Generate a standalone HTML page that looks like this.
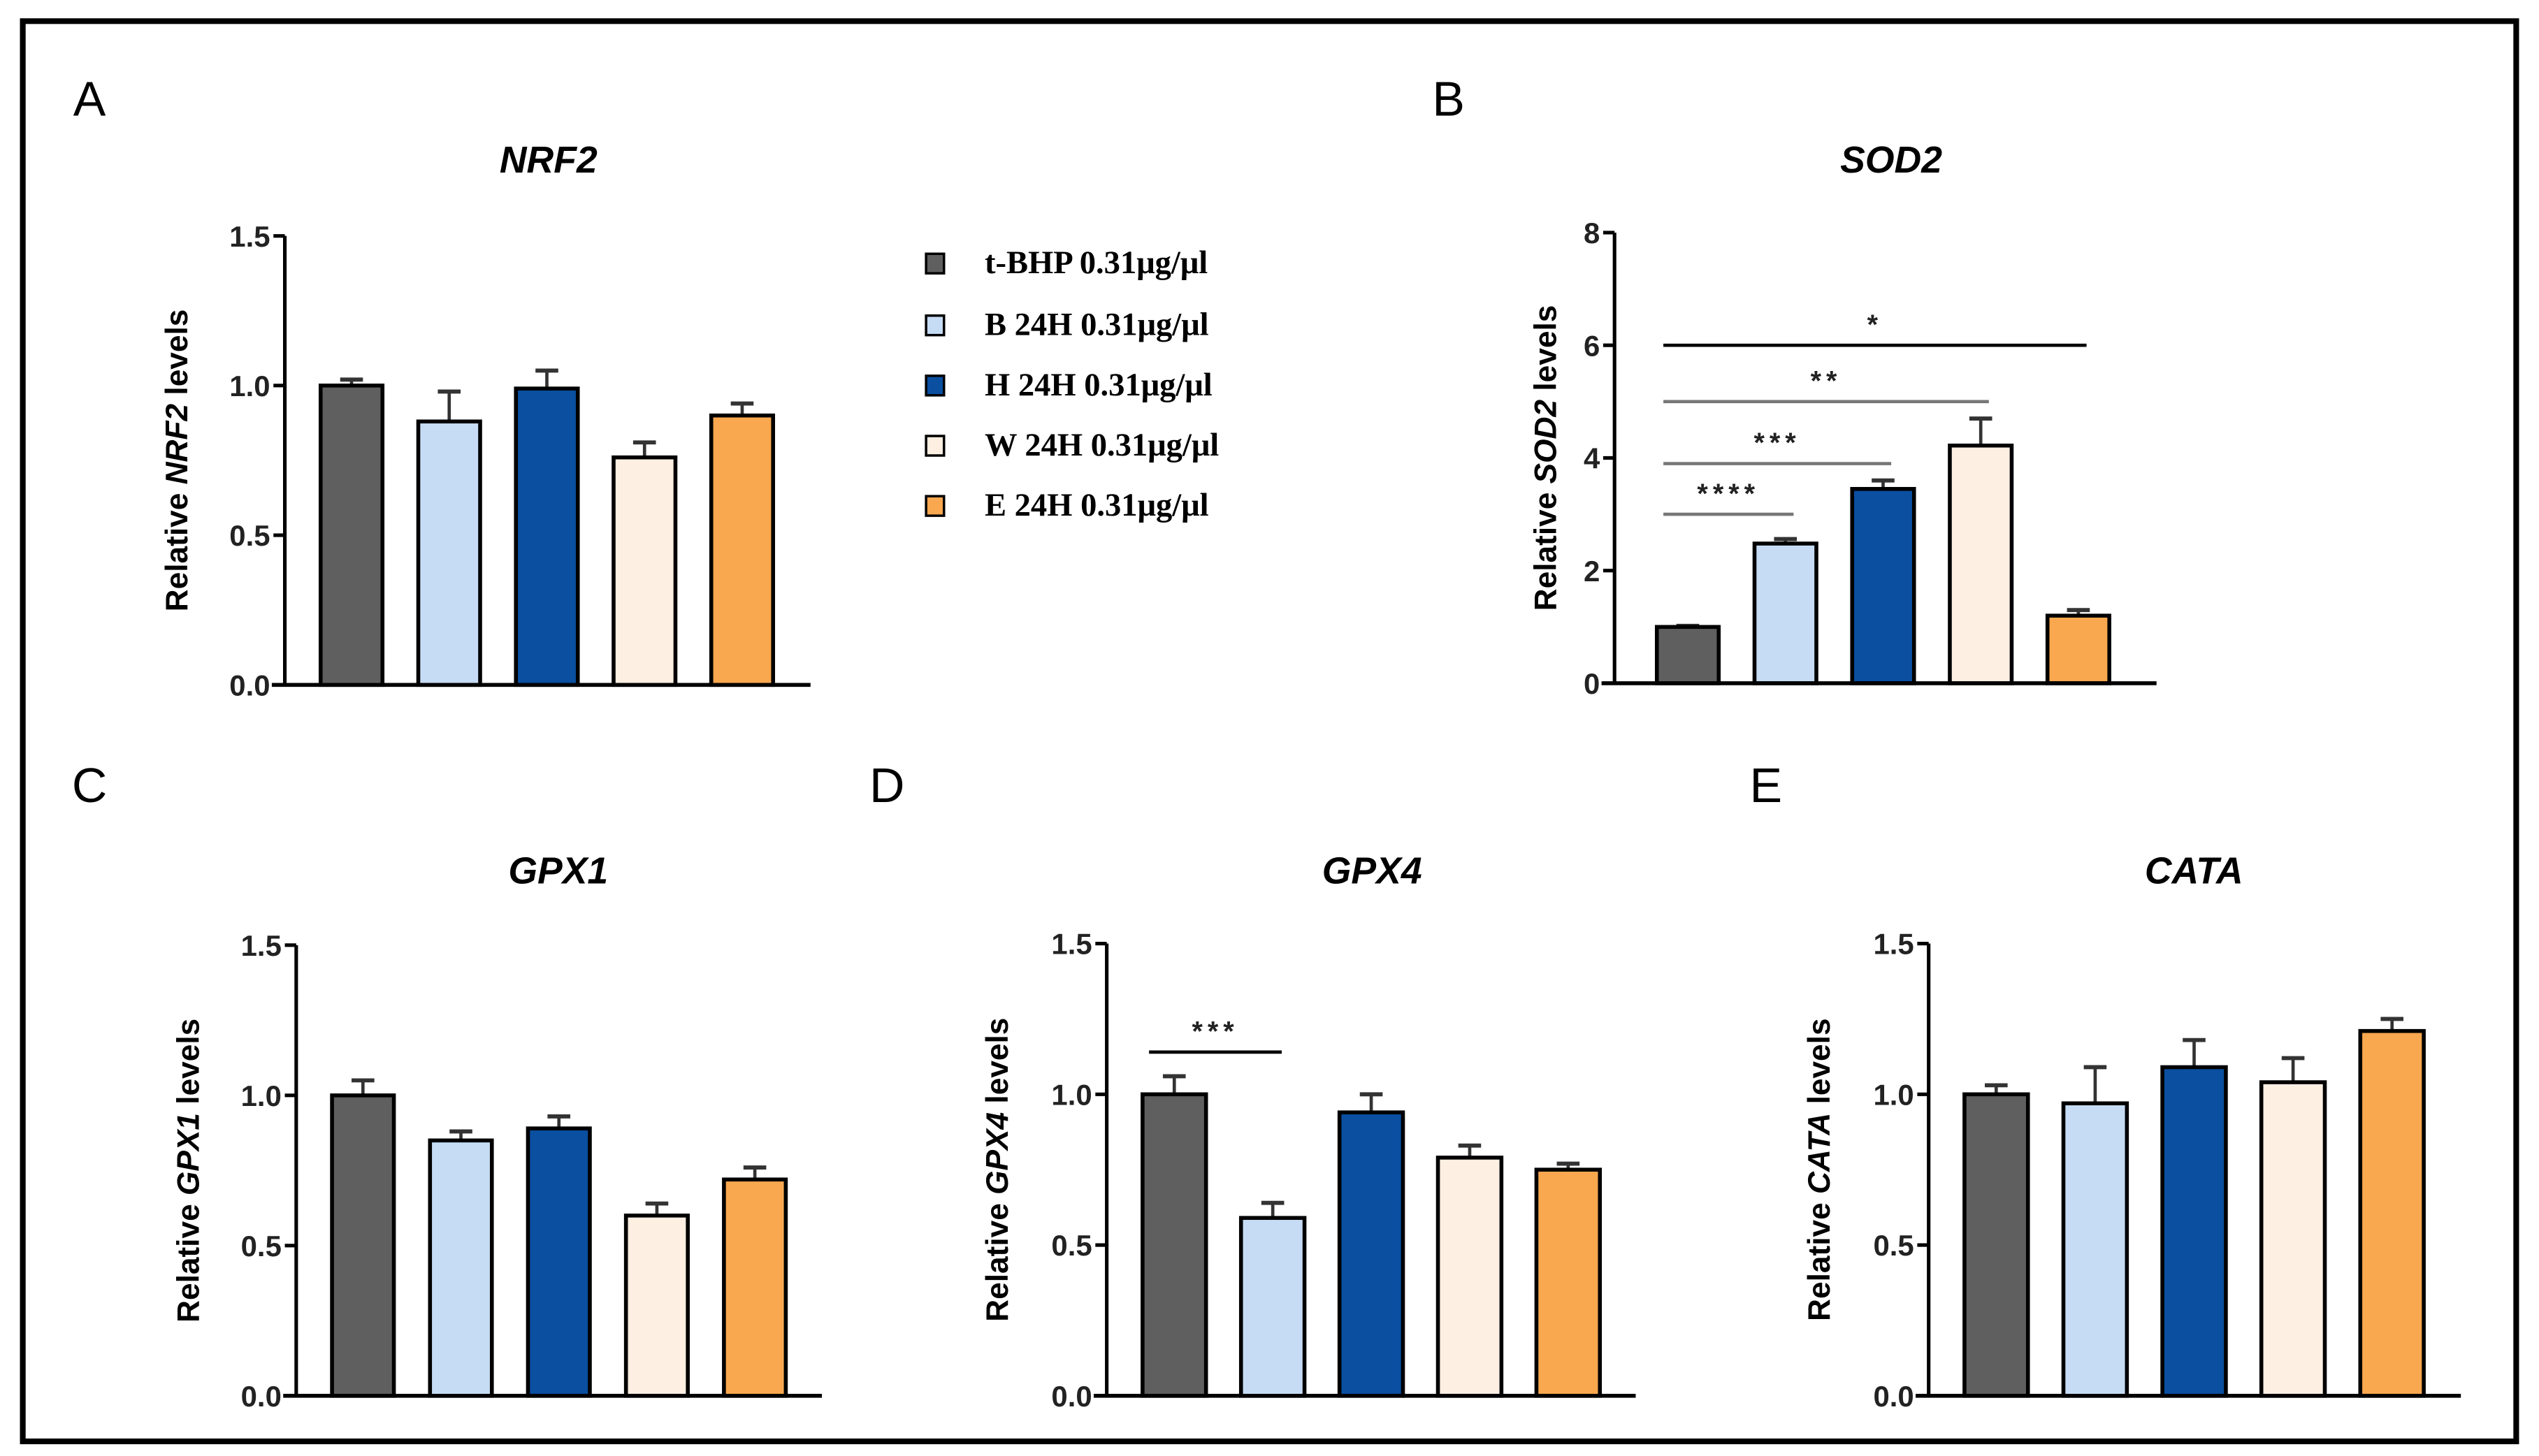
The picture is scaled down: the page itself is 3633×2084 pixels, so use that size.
<!DOCTYPE html>
<html><head><meta charset="utf-8">
<style>
html,body{margin:0;padding:0;background:#fff;}
svg{display:block;}
</style></head>
<body>
<svg id="fig" xmlns="http://www.w3.org/2000/svg" width="3633" height="2084" viewBox="0 0 1560 895" preserveAspectRatio="none">
<rect x="0" y="0" width="1560" height="895" fill="#fff"/>
<rect x="14" y="13" width="1532" height="873" fill="none" stroke="#000" stroke-width="3.5"/>
<g font-family="Liberation Serif, serif" font-weight="bold" font-size="20">
  <g><rect x="569" y="156" width="11" height="12" fill="#5f5f5f" stroke="#000" stroke-width="1.5"/><text x="605" y="168">t-BHP 0.31μg/μl</text></g>
  <g><rect x="569" y="194" width="11" height="12" fill="#c6dcf4" stroke="#000" stroke-width="1.5"/><text x="605" y="206">B 24H 0.31μg/μl</text></g>
  <g><rect x="569" y="231" width="11" height="12" fill="#0a4fa0" stroke="#000" stroke-width="1.5"/><text x="605" y="243">H 24H 0.31μg/μl</text></g>
  <g><rect x="569" y="268" width="11" height="12" fill="#fdefe2" stroke="#000" stroke-width="1.5"/><text x="605" y="280">W 24H 0.31μg/μl</text></g>
  <g><rect x="569" y="305" width="11" height="12" fill="#f9a84f" stroke="#000" stroke-width="1.5"/><text x="605" y="317">E 24H 0.31μg/μl</text></g>
</g>
</svg>
<script>
const colors = ["#5f5f5f","#c6dcf4","#0a4fa0","#fdefe2","#f9a84f"];
const nrf2Values = [1.0, 0.88, 0.99, 0.76, 0.90];
const nrf2Errors = [0.02, 0.10, 0.06, 0.05, 0.04];
const sod2Values = [1.0, 2.48, 3.45, 4.22, 1.20];
const sod2Errors = [0.02, 0.08, 0.15, 0.48, 0.10];
const gpx1Values = [1.0, 0.85, 0.89, 0.60, 0.72];
const gpx1Errors = [0.05, 0.03, 0.04, 0.04, 0.04];
const gpx4Values = [1.0, 0.59, 0.94, 0.79, 0.75];
const gpx4Errors = [0.06, 0.05, 0.06, 0.04, 0.02];
const cataValues = [1.0, 0.97, 1.09, 1.04, 1.21];
const cataErrors = [0.03, 0.12, 0.09, 0.08, 0.04];
const ticks15 = [0, 0.5, 1.0, 1.5];
const tickLabels15 = ["0.0","0.5","1.0","1.5"];
const ticks8 = [0, 2, 4, 6, 8];
const tickLabels8 = ["0","2","4","6","8"];
const sod2Sig = [{from:0,to:1,y:3.0,label:"****",c:"#777"},{from:0,to:2,y:3.9,label:"***",c:"#777"},{from:0,to:3,y:5.0,label:"**",c:"#777"},{from:0,to:4,y:6.0,label:"*",c:"#000"}];
const gpx4Sig = [{from:0,to:1,y:1.14,label:"***",c:"#000"}];

const NS = "http://www.w3.org/2000/svg";
const svg = document.getElementById("fig");
function mk(tag, attrs, parent){
  const e = document.createElementNS(NS, tag);
  for (const k in attrs) e.setAttribute(k, attrs[k]);
  (parent||svg).appendChild(e);
  return e;
}
const panels = [
  {key:"nrf2", letter:"A", lx:55, ly:71, title:"NRF2", tx:337, ty:106, ax:175, x0:167, x1:498, yTop:145, yBot:421, max:1.5, ticks:ticks15, tl:tickLabels15, vals:nrf2Values, errs:nrf2Errors, bar0:197, step:60, bw:38, ylx:110, sig:[]},
  {key:"sod2", letter:"B", lx:890, ly:71, title:"SOD2", tx:1162, ty:106, ax:992, x0:984, x1:1325, yTop:143, yBot:420, max:8, ticks:ticks8, tl:tickLabels8, vals:sod2Values, errs:sod2Errors, bar0:1018, step:60, bw:38, ylx:951, sig:sod2Sig},
  {key:"gpx1", letter:"C", lx:55, ly:493, title:"GPX1", tx:343, ty:543, ax:182, x0:174, x1:505, yTop:581, yBot:858, max:1.5, ticks:ticks15, tl:tickLabels15, vals:gpx1Values, errs:gpx1Errors, bar0:204, step:60.2, bw:38, ylx:117, sig:[]},
  {key:"gpx4", letter:"D", lx:545, ly:493, title:"GPX4", tx:843, ty:543, ax:680, x0:672, x1:1005, yTop:580, yBot:858, max:1.5, ticks:ticks15, tl:tickLabels15, vals:gpx4Values, errs:gpx4Errors, bar0:702, step:60.5, bw:39, ylx:614, sig:gpx4Sig},
  {key:"cata", letter:"E", lx:1085, ly:493, title:"CATA", tx:1348, ty:543, ax:1185, x0:1177, x1:1512, yTop:580, yBot:858, max:1.5, ticks:ticks15, tl:tickLabels15, vals:cataValues, errs:cataErrors, bar0:1207, step:60.8, bw:39, ylx:1119, sig:[]}
];
panels.forEach(p=>{
  const g = mk("g", {});
  
  
  const yS = v => p.yBot - (v / p.max) * (p.yBot - p.yTop);
  const xC = i => p.bar0 + p.bw/2 + i * p.step;
  const L = mk("text", {x:p.lx, y:p.ly, "font-family":"Liberation Sans, sans-serif", "font-size":30, "text-anchor":"middle"}, g);
  L.textContent = p.letter;
  
  
  const T = mk("text", {x:p.tx, y:p.ty, "font-family":"Liberation Sans, sans-serif", "font-size":23, "font-weight":"bold", "font-style":"italic", "text-anchor":"middle"}, g);
  T.textContent = p.title;
  
  
  const yc = (p.yTop + p.yBot) / 2;
  const Y = mk("text", {x:p.ylx, y:yc, transform:"rotate(-90 "+p.ylx+" "+yc+")", "font-family":"Liberation Sans, sans-serif", "font-size":19, "font-weight":"bold", "text-anchor":"middle", "dominant-baseline":"middle"}, g);
  
  
  const t1 = mk("tspan", {}, Y); t1.textContent = "Relative ";
  const t2 = mk("tspan", {"font-style":"italic"}, Y); t2.textContent = p.title;
  const t3 = mk("tspan", {}, Y); t3.textContent = " levels";
  p.vals.forEach((v,i)=>{
    const cx = xC(i);
    const top = yS(v + p.errs[i]);
    const eb = mk("g", {}, g);
    
    
    mk("line", {x1:cx, x2:cx, y1:yS(v), y2:top, stroke:"#333", "stroke-width":2}, eb);
    mk("line", {x1:cx-7, x2:cx+7, y1:top, y2:top, stroke:"#333", "stroke-width":2.5}, eb);
    const r = mk("rect", {x:cx - p.bw/2, y:yS(v), width:p.bw, height:p.yBot - yS(v), fill:colors[i], stroke:"#000", "stroke-width":2.4}, g);
    
    
  });
  const ya = mk("line", {x1:p.ax, x2:p.ax, y1:p.yTop, y2:p.yBot, stroke:"#000", "stroke-width":2.2}, g);
  
  
  const xa = mk("line", {x1:p.x0, x2:p.x1, y1:p.yBot, y2:p.yBot, stroke:"#000", "stroke-width":2.4}, g);
  
  
  p.ticks.forEach((t,i)=>{
    const y = yS(t);
    mk("line", {x1:p.ax-7, x2:p.ax, y1:y, y2:y, stroke:"#000", "stroke-width":2.2}, g);
    const tx = mk("text", {x:p.ax-9, y:y+6.5, "font-family":"Liberation Sans, sans-serif", "font-size":18, "font-weight":"bold", "text-anchor":"end", fill:"#222", transform:"scale(1,1)"}, g);
    tx.textContent = p.tl[i];
    
    
  });
  p.sig.forEach(s=>{
    const sg = mk("g", {}, g);
    
    
    const xa1 = p.bar0 + 4, xb = xC(s.to) + p.bw/2 - 14;
    const y = yS(s.y);
    mk("line", {x1:xa1, x2:xb, y1:y, y2:y, stroke:s.c, "stroke-width":2}, sg);
    const st = mk("text", {x:(xa1+xb)/2, y:y-7, "font-family":"Liberation Sans, sans-serif", "font-size":17, "font-weight":"bold", "text-anchor":"middle", "letter-spacing":"3", fill:"#222"}, sg);
    st.textContent = s.label;
  });
});
</script>
</body></html>
